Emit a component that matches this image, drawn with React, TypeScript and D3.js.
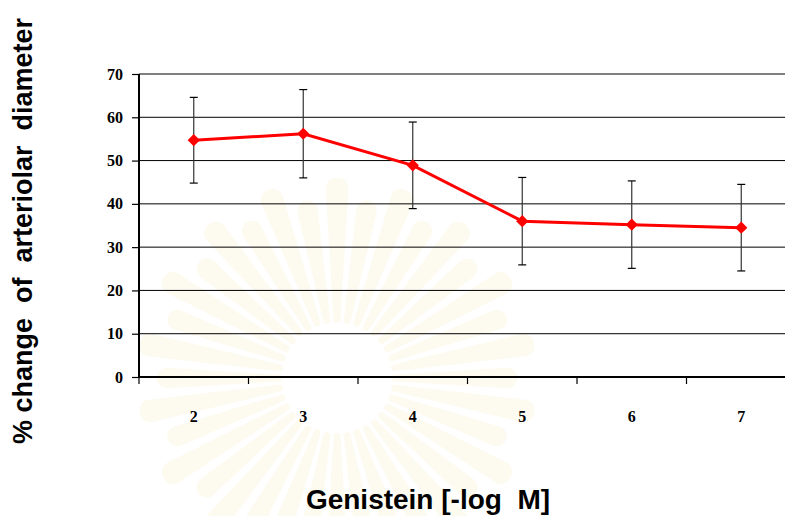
import * as d3 from "d3";
import React, { useEffect, useRef } from "react";

const doses = ["2", "3", "4", "5", "6", "7"];
const meanChange = [54.7, 56.2, 48.9, 36.0, 35.2, 34.5];
const errorSE = [9.9, 10.2, 10.0, 10.1, 10.1, 10.0];
const yTicks = [0, 10, 20, 30, 40, 50, 60, 70];

export default function App() {
  const ref = useRef<SVGSVGElement | null>(null);

  useEffect(() => {
    const svg = d3.select(ref.current);
    svg.selectAll("*").remove();

    const width = 785;
    const height = 516;
    const margin = { top: 74, right: -11, bottom: 139, left: 139 };
    const innerW = width - margin.left - margin.right;
    const innerH = height - margin.top - margin.bottom;

    svg.attr("width", width).attr("height", height);
    svg.append("rect").attr("width", width).attr("height", height).attr("fill", "#fff");

    // very faint watermark sunburst
    const wm = svg.append("g").attr("transform", "translate(337,378)");
    const rays = d3.range(36);
    const arc = d3.arc<number>()
      .innerRadius(55)
      .outerRadius((d) => (d % 2 === 0 ? 200 : 180))
      .startAngle((d) => (d * Math.PI * 2) / 36 - 0.06)
      .endAngle((d) => (d * Math.PI * 2) / 36 + 0.06)
      .cornerRadius(10);
    wm.selectAll("path.ray")
      .data(rays)
      .enter()
      .append("path")
      .attr("class", "ray")
      .attr("d", arc)
      .attr("fill", "#fdfaf0");

    const chart = svg.append("g").attr("transform", `translate(${margin.left},${margin.top})`);

    const x = d3.scaleBand().domain(doses).range([0, 657]).padding(0);
    const y = d3.scaleLinear().domain([0, 70]).range([innerH, 0]);

    // gridlines
    chart
      .selectAll("line.grid")
      .data(yTicks.filter((t) => t > 0))
      .enter()
      .append("line")
      .attr("class", "grid")
      .attr("x1", 0)
      .attr("x2", innerW + 20)
      .attr("y1", (d) => y(d))
      .attr("y2", (d) => y(d))
      .attr("stroke", "#000")
      .attr("stroke-width", 1);

    const tickFont = (sel: any) =>
      sel
        .attr("font-family", "Liberation Serif, Times New Roman, serif")
        .attr("font-weight", "bold")
        .attr("font-size", 16)
        .attr("fill", "#000");

    // y axis
    const yAxis = chart
      .append("g")
      .call(d3.axisLeft(y).tickValues(yTicks).tickSize(7).tickPadding(9).tickFormat(d3.format("d")));
    yAxis.select(".domain").attr("stroke-width", 2).attr("d", `M0,${innerH}V0`);
    yAxis.selectAll(".tick line").attr("stroke-width", 1.2);
    tickFont(yAxis.selectAll("text"));

    // x axis
    const xAxis = chart
      .append("g")
      .attr("transform", `translate(0,${innerH})`)
      .call(d3.axisBottom(x).tickSize(0).tickPadding(34));
    xAxis.select(".domain").attr("stroke-width", 2).attr("d", `M0,0H${innerW + 20}`);
    tickFont(xAxis.selectAll("text"));
    chart
      .selectAll("line.xtick")
      .data(doses.concat(["end"]))
      .enter()
      .append("line")
      .attr("class", "xtick")
      .attr("x1", (_, i) => i * x.step())
      .attr("x2", (_, i) => i * x.step())
      .attr("y1", innerH)
      .attr("y2", innerH + 7)
      .attr("stroke", "#000")
      .attr("stroke-width", 1.2);

    const cx = (d: string) => (x(d) ?? 0) + x.bandwidth() / 2;

    // error bars
    const eb = chart
      .selectAll("g.eb")
      .data(doses)
      .enter()
      .append("g")
      .attr("class", "eb")
      .attr("stroke", "#333")
      .attr("stroke-width", 1.2);
    eb.append("line")
      .attr("x1", (d) => cx(d))
      .attr("x2", (d) => cx(d))
      .attr("y1", (_, i) => y(meanChange[i] + errorSE[i]))
      .attr("y2", (_, i) => y(meanChange[i] - errorSE[i]));
    eb.append("line")
      .attr("x1", (d) => cx(d) - 4)
      .attr("x2", (d) => cx(d) + 4)
      .attr("y1", (_, i) => y(meanChange[i] + errorSE[i]))
      .attr("y2", (_, i) => y(meanChange[i] + errorSE[i]))
      .attr("stroke", "#000");
    eb.append("line")
      .attr("x1", (d) => cx(d) - 4)
      .attr("x2", (d) => cx(d) + 4)
      .attr("y1", (_, i) => y(meanChange[i] - errorSE[i]))
      .attr("y2", (_, i) => y(meanChange[i] - errorSE[i]))
      .attr("stroke", "#000");

    // line
    const line = d3
      .line<number>()
      .x((_, i) => cx(doses[i]))
      .y((d) => y(d));
    chart
      .append("path")
      .datum(meanChange)
      .attr("d", line)
      .attr("fill", "none")
      .attr("stroke", "#ff0000")
      .attr("stroke-width", 3);

    // diamond markers
    const diamond = d3.symbol().type(d3.symbolDiamond2).size(95);
    chart
      .selectAll("path.pt")
      .data(meanChange)
      .enter()
      .append("path")
      .attr("class", "pt")
      .attr("d", diamond)
      .attr("transform", (d, i) => `translate(${cx(doses[i])},${y(d)})`)
      .attr("fill", "#ff0000");

    // titles
    svg
      .append("text")
      .attr("x", 428)
      .attr("y", 509)
      .attr("text-anchor", "middle")
      .attr("font-family", "Liberation Sans, Arial, sans-serif")
      .attr("font-weight", "bold")
      .attr("font-size", 28)
      .attr("fill", "#000")
      .style("white-space", "pre")
      .text("Genistein [-log  M]");

    svg
      .append("text")
      .attr("transform", "translate(32,231) rotate(-90)")
      .attr("text-anchor", "middle")
      .attr("font-family", "Liberation Sans, Arial, sans-serif")
      .attr("font-weight", "bold")
      .attr("font-size", 27)
      .attr("fill", "#000")
      .style("white-space", "pre")
      .text("% change  of  arteriolar  diameter");
  }, []);

  return <svg ref={ref} style={{ position: "absolute", left: 0, top: 0 }} />;
}
